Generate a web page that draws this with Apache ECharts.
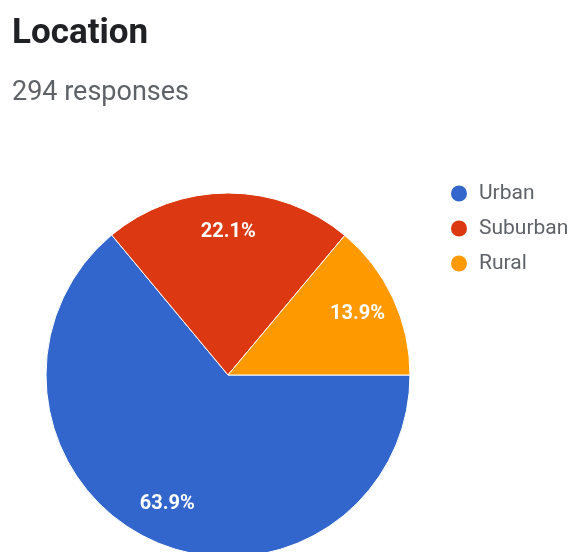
<!DOCTYPE html>
<html>
<head>
<meta charset="utf-8">
<style>
  html, body { margin: 0; padding: 0; background: #fff; }
  #chart { width: 568px; height: 552px; }
</style>
<script src="https://cdn.jsdelivr.net/npm/echarts@6/dist/echarts.min.js"></script>
</head>
<body>
<div id="chart"></div>
<script>
// Survey question and response count
const questionTitle = 'Location';
const responseCount = 294;

// Answer categories and their share of responses (percent)
const categories = ['Urban', 'Suburban', 'Rural'];
const shares = [63.9, 22.1, 13.9];
const sliceColors = ['#3366CC', '#DC3912', '#FF9900'];

const pieData = categories.map((name, i) => ({ name, value: shares[i] }));

const chart = echarts.init(document.getElementById('chart'), null, { renderer: 'canvas' });

const center = [228, 375];
const outerR = 182;

chart.setOption({
  animation: false,
  color: sliceColors,
  title: [
    {
      text: questionTitle,
      left: 12,
      top: 17,
      padding: 0,
      textStyle: { fontFamily: 'Roboto', fontSize: 35, fontWeight: 'bold', color: '#202124' }
    },
    {
      text: responseCount + ' responses',
      left: 12,
      top: 80,
      padding: 0,
      textStyle: { fontFamily: 'Roboto', fontSize: 27, fontWeight: 'normal', color: '#5f6368' }
    }
  ],
  legend: {
    orient: 'vertical',
    left: 449,
    top: 183,
    padding: 0,
    icon: 'circle',
    itemWidth: 18,
    itemHeight: 18,
    itemGap: 14,
    data: categories,
    textStyle: { fontFamily: 'Roboto', fontSize: 21, color: '#5f6368', padding: [0, 0, 0, 6] }
  },
  series: [
    {
      // filled slices
      type: 'pie',
      center: center,
      radius: [0, outerR],
      startAngle: 0,
      clockwise: true,
      silent: true,
      label: { show: false },
      labelLine: { show: false },
      itemStyle: { borderColor: '#fff', borderWidth: 1 },
      data: pieData
    },
    {
      // transparent ring carrying the percentage labels
      type: 'pie',
      center: center,
      radius: [98, outerR],
      startAngle: 0,
      clockwise: true,
      silent: true,
      itemStyle: { color: 'rgba(0,0,0,0)' },
      labelLine: { show: false },
      label: {
        show: true,
        position: 'inside',
        fontFamily: 'Roboto',
        fontSize: 20,
        fontWeight: 'bold',
        color: '#fff',
        formatter: p => p.value.toFixed(1) + '%'
      },
      data: pieData
    }
  ]
});
</script>
</body>
</html>
